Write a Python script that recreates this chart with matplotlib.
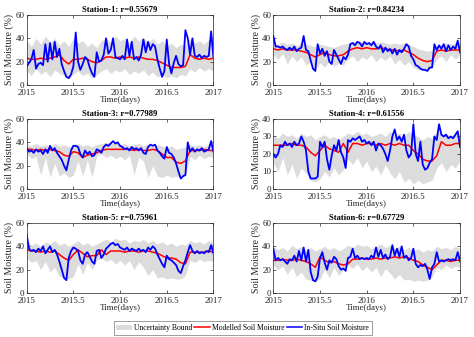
import numpy as np
import matplotlib
matplotlib.use("Agg")
import matplotlib.pyplot as plt
from matplotlib.patches import Patch
from matplotlib.lines import Line2D

plt.rcParams['font.family'] = ['Liberation Serif', 'DejaVu Serif']

# time axes (fraction of year): in-situ every ~9 days, model/bounds every ~18 days
t_fine = np.linspace(2015, 2017, 81)
t_coarse = np.linspace(2015, 2017, 41)

titles = ["Station-1: r=0.55679", "Station-2: r=0.84234", "Station-3: r=0.77989",
          "Station-4: r=0.61556", "Station-5: r=0.75961", "Station-6: r=0.67729"]
y_max = [60, 60, 60, 40, 60, 60]
x_ticks = [2015, 2015.5, 2016, 2016.5, 2017]
x_ticklabels = ["2015", "2015.5", "2016", "2016.5", "2017"]

# Station 1
s1_insitu = [16, 19, 22, 30, 14, 18, 19, 17, 35, 20, 36, 22, 37, 24, 31, 18, 12, 7, 6, 9,
             16, 45, 20, 13, 18, 24, 22, 15, 10, 7, 28, 20, 21, 26, 40, 27, 30, 40, 24, 23,
             22, 25, 22, 39, 25, 37, 22, 24, 21, 26, 39, 28, 37, 30, 35, 33, 22, 14, 7, 12,
             39, 18, 10, 19, 25, 18, 16, 17, 47, 40, 26, 40, 25, 24, 26, 23, 25, 24, 25, 46, 24]
s1_model = [23, 22, 22, 23, 22, 23, 24, 26, 21, 18, 22, 22, 23, 22, 20, 19, 21, 24, 24, 23,
            24, 23, 24, 23, 24, 23, 22, 22, 21, 19, 17, 15, 15, 15, 16, 26, 23, 22, 23, 22, 23]
s1_high = [38, 33, 40, 35, 42, 36, 40, 34, 38, 33, 40, 36, 38, 33, 36, 32, 38, 40, 36, 42,
           38, 40, 36, 42, 38, 41, 36, 40, 35, 38, 33, 36, 32, 35, 34, 40, 36, 38, 35, 39, 36]
s1_low = [12, 8, 14, 9, 12, 7, 13, 10, 8, 5, 9, 12, 8, 10, 6, 9, 12, 14, 10, 13,
          11, 14, 9, 12, 10, 13, 8, 11, 7, 9, 6, 8, 6, 9, 8, 14, 11, 15, 12, 14, 12]

# Station 2
s2_insitu = [42, 33, 33, 32, 33, 31, 30, 32, 30, 33, 29, 31, 32, 42, 30, 29, 21, 14, 12, 35,
             27, 31, 25, 29, 20, 18, 30, 26, 22, 18, 24, 22, 26, 35, 36, 34, 37, 36, 33, 37,
             35, 36, 34, 37, 33, 31, 34, 28, 32, 29, 31, 27, 31, 26, 30, 28, 31, 35, 33, 25,
             22, 17, 16, 14, 13, 13, 12, 15, 15, 35, 30, 34, 31, 35, 29, 34, 30, 33, 31, 38, 28]
s2_model = [31, 30, 31, 30, 30, 30, 29, 28, 26, 24, 26, 28, 26, 25, 25, 26, 29, 31, 32, 31,
            32, 31, 31, 32, 31, 30, 30, 29, 30, 28, 26, 23, 21, 20, 21, 29, 30, 29, 30, 30, 30]
s2_high = [36, 35, 37, 35, 36, 34, 36, 35, 34, 33, 35, 34, 33, 32, 34, 35, 36, 37, 38, 37,
           36, 37, 36, 37, 36, 35, 36, 35, 36, 35, 33, 31, 30, 29, 30, 33, 35, 36, 35, 36, 35]
s2_low = [26, 22, 27, 18, 25, 20, 24, 17, 20, 14, 19, 15, 21, 16, 19, 17, 22, 25, 20, 24,
          22, 26, 20, 24, 21, 25, 18, 22, 17, 20, 15, 13, 14, 13, 15, 22, 25, 20, 26, 22, 26]

# Station 3
s3_insitu = [35, 32, 33, 31, 34, 32, 33, 30, 34, 31, 37, 33, 35, 31, 28, 25, 20, 16, 25, 33,
             37, 37, 36, 30, 27, 33, 30, 32, 28, 29, 34, 33, 31, 36, 38, 37, 39, 41, 39, 40,
             37, 36, 34, 35, 33, 36, 34, 35, 33, 35, 31, 30, 36, 38, 37, 38, 33, 31, 28, 26,
             36, 31, 30, 27, 22, 15, 9, 11, 12, 40, 32, 35, 32, 34, 33, 35, 32, 33, 34, 41, 32]
s3_model = [34, 34, 33, 34, 33, 34, 33, 32, 29, 28, 32, 31, 27, 29, 30, 31, 33, 34, 34, 34,
            34, 34, 34, 33, 34, 33, 33, 34, 33, 30, 27, 27, 23, 22, 24, 33, 33, 33, 34, 33, 33]
s3_high = [38, 37, 39, 37, 38, 36, 39, 37, 38, 36, 38, 39, 37, 38, 36, 38, 39, 40, 39, 40,
           38, 39, 37, 38, 39, 37, 38, 36, 38, 37, 35, 37, 34, 35, 36, 38, 37, 38, 36, 38, 37]
s3_low = [30, 26, 28, 12, 27, 10, 22, 11, 14, 10, 12, 24, 11, 25, 10, 28, 30, 27, 29, 26,
          28, 25, 29, 12, 27, 24, 10, 20, 11, 10, 12, 10, 11, 10, 12, 28, 25, 29, 26, 28, 27]

# Station 4
s4_insitu = [20, 18, 20, 25, 24, 27, 25, 26, 24, 27, 25, 26, 30, 27, 22, 10, 6, 6, 6, 7,
             27, 24, 27, 17, 11, 19, 25, 22, 28, 21, 18, 12, 28, 27, 29, 28, 29, 30, 27, 28,
             26, 27, 25, 27, 22, 26, 25, 23, 20, 16, 22, 30, 34, 28, 30, 27, 31, 22, 18, 20,
             37, 20, 16, 27, 14, 11, 12, 15, 17, 30, 28, 37, 31, 30, 31, 29, 30, 29, 31, 33, 24]
s4_model = [25, 25, 25, 25, 26, 25, 25, 24, 21, 19, 22, 25, 23, 22, 21, 26, 21, 26, 26, 25,
            26, 26, 25, 26, 25, 26, 25, 26, 25, 25, 22, 20, 17, 16, 16, 19, 27, 25, 25, 26, 26]
s4_high = [31, 29, 32, 30, 31, 29, 32, 30, 31, 28, 30, 31, 29, 30, 28, 30, 32, 31, 33, 31,
           32, 30, 31, 32, 30, 33, 31, 32, 30, 33, 31, 30, 28, 30, 29, 33, 31, 32, 30, 32, 31]
s4_low = [15, 10, 18, 8, 14, 6, 12, 9, 5, 4, 6, 10, 7, 12, 8, 11, 17, 14, 18, 12,
          16, 10, 13, 8, 14, 9, 6, 10, 4, 6, 3, 5, 3, 4, 5, 12, 15, 10, 14, 12, 16]

# Station 5
s5_insitu = [50, 38, 36, 37, 35, 38, 36, 40, 34, 37, 40, 35, 37, 33, 27, 20, 13, 11, 30, 36,
             39, 38, 36, 28, 25, 33, 35, 31, 27, 25, 36, 37, 30, 33, 38, 40, 42, 43, 41, 42,
             39, 38, 37, 39, 36, 38, 37, 36, 38, 36, 37, 35, 39, 37, 40, 38, 33, 29, 25, 22,
             32, 29, 28, 26, 24, 19, 17, 23, 28, 35, 41, 36, 34, 36, 34, 35, 34, 36, 35, 41, 34]
s5_model = [37, 36, 36, 35, 36, 35, 36, 33, 30, 28, 33, 37, 34, 31, 32, 32, 37, 33, 36, 36,
            36, 35, 36, 36, 35, 36, 36, 35, 34, 32, 30, 30, 29, 26, 25, 35, 35, 35, 35, 36, 35]
s5_high = [44, 41, 43, 40, 44, 42, 45, 41, 43, 40, 42, 45, 41, 43, 40, 42, 44, 46, 44, 47,
           45, 46, 43, 45, 44, 46, 43, 45, 42, 44, 41, 43, 40, 42, 41, 45, 43, 44, 42, 45, 43]
s5_low = [30, 26, 28, 20, 27, 18, 22, 14, 13, 12, 14, 25, 16, 26, 20, 28, 30, 27, 29, 25,
          28, 24, 28, 20, 27, 22, 15, 20, 13, 14, 12, 13, 12, 12, 15, 28, 26, 29, 27, 28, 27]

# Station 6
s6_insitu = [38, 28, 30, 28, 29, 27, 25, 29, 28, 32, 27, 36, 28, 39, 27, 37, 18, 11, 10, 14,
             30, 35, 26, 20, 28, 26, 31, 29, 23, 20, 21, 19, 30, 31, 38, 30, 32, 29, 30, 29,
             30, 29, 32, 30, 39, 31, 37, 30, 33, 29, 31, 41, 32, 38, 31, 40, 30, 32, 28, 30,
             38, 25, 22, 24, 23, 25, 20, 12, 22, 25, 35, 27, 28, 27, 28, 29, 28, 29, 28, 35, 27]
s6_model = [28, 28, 29, 28, 28, 29, 28, 27, 25, 22, 31, 28, 26, 27, 25, 24, 25, 29, 29, 30,
            29, 29, 30, 29, 30, 30, 31, 30, 31, 30, 28, 27, 24, 22, 20, 24, 28, 28, 27, 28, 28]
s6_high = [40, 37, 39, 36, 41, 38, 40, 37, 39, 36, 38, 40, 37, 39, 36, 38, 41, 39, 42, 40,
           41, 38, 40, 42, 39, 41, 38, 40, 37, 39, 36, 38, 35, 37, 36, 40, 38, 39, 37, 40, 38]
s6_low = [24, 20, 23, 16, 22, 14, 18, 12, 11, 10, 12, 20, 13, 22, 15, 20, 24, 21, 25, 19,
          23, 18, 22, 14, 21, 17, 12, 16, 11, 12, 10, 11, 10, 11, 14, 22, 20, 24, 21, 23, 22]

stations = [
    (s1_insitu, s1_model, s1_low, s1_high),
    (s2_insitu, s2_model, s2_low, s2_high),
    (s3_insitu, s3_model, s3_low, s3_high),
    (s4_insitu, s4_model, s4_low, s4_high),
    (s5_insitu, s5_model, s5_low, s5_high),
    (s6_insitu, s6_model, s6_low, s6_high),
]

band_color = '#dcdcdc'
axis_color = '#262626'

fig = plt.figure(figsize=(4.74, 3.37), dpi=100)

lefts = [0.0563, 0.5766]
bottoms = [0.7478, 0.4392, 0.1306]
w, h = 0.394, 0.2077

for k, (insitu, model, low, high) in enumerate(stations):
    row, col = divmod(k, 2)
    ax = fig.add_axes([lefts[col], bottoms[row], w, h])
    ax.fill_between(t_coarse, low, high, color=band_color, linewidth=0)
    ax.plot(t_coarse, model, color='red', linewidth=1.1)
    ax.plot(t_fine, insitu, color='blue', linewidth=1.3)

    ax.set_xlim(2015, 2017)
    ax.set_ylim(0, y_max[k])
    ax.set_xticks(x_ticks)
    ax.set_xticklabels(x_ticklabels)
    if y_max[k] == 40:
        ax.set_yticks([0, 10, 20, 30, 40])
    else:
        ax.set_yticks([0, 20, 40, 60])

    ax.tick_params(direction='in', length=2, width=0.5, labelsize=6.5,
                   colors=axis_color, top=True, right=True)
    ax.tick_params(axis='x', pad=2.6)
    ax.tick_params(axis='y', pad=1.5)
    for sp in ax.spines.values():
        sp.set_linewidth(0.5)
        sp.set_color(axis_color)

    ax.set_title(titles[k], fontsize=6.2, fontweight='bold', pad=2.5)
    ax.set_xlabel("Time(days)", fontsize=6.5, labelpad=-0.5, color=axis_color)
    ax.set_ylabel("Soil Moisture (%)", fontsize=7, labelpad=1, color=axis_color)

handles = [Patch(facecolor=band_color, edgecolor='none'),
           Line2D([], [], color='red', linewidth=1.1),
           Line2D([], [], color='blue', linewidth=1.1)]
labels = ["Uncertainty Bound", "Modelled Soil Moisture", "In-Situ Soil Moisture"]
leg = fig.legend(handles, labels, loc='center', bbox_to_anchor=(0.512, 0.027), ncol=3,
                 fontsize=5.5, frameon=True, fancybox=False, edgecolor='#555555',
                 handlelength=2.0, handletextpad=0.3, columnspacing=0.3,
                 borderpad=0.35, borderaxespad=0)
leg.get_frame().set_linewidth(0.5)

fig.savefig("out.png", dpi=100)
